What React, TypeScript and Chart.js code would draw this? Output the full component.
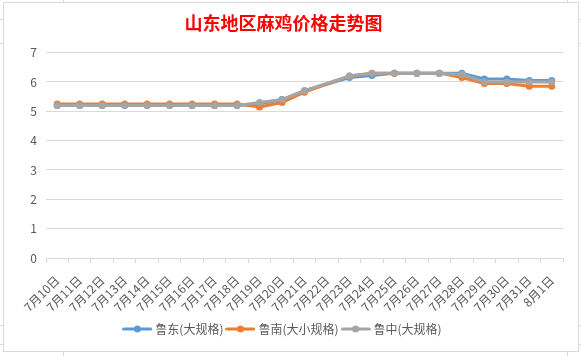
import React, { useEffect, useRef } from "react";
import { Chart, registerables } from "chart.js";

Chart.register(...registerables);

const titleText = "山东地区麻鸡价格走势图";
const categories = [
  "7月10日", "7月11日", "7月12日", "7月13日", "7月14日", "7月15日", "7月16日", "7月17日",
  "7月18日", "7月19日", "7月20日", "7月21日", "7月22日", "7月23日", "7月24日", "7月25日",
  "7月26日", "7月27日", "7月28日", "7月29日", "7月30日", "7月31日", "8月1日",
];
const seriesNames = ["鲁东(大规格)", "鲁南(大小规格)", "鲁中(大规格)"];
const luDong = [5.2, 5.2, 5.2, 5.2, 5.2, 5.2, 5.2, 5.2, 5.2, 5.25, 5.4, 5.7, null, 6.15, 6.22, 6.3, 6.3, 6.3, 6.3, 6.1, 6.1, 6.05, 6.05];
const luNan = [5.25, 5.25, 5.25, 5.25, 5.25, 5.25, 5.25, 5.25, 5.25, 5.15, 5.3, 5.65, null, 6.2, 6.3, 6.3, 6.3, 6.3, 6.15, 5.95, 5.95, 5.85, 5.85];
const luZhong = [5.2, 5.2, 5.2, 5.2, 5.2, 5.2, 5.2, 5.2, 5.2, 5.3, 5.4, 5.7, null, 6.2, 6.3, 6.3, 6.3, 6.3, 6.25, 6.0, 6.0, 6.0, 6.0];
const colors = ["#5B9BD5", "#ED7D31", "#A5A5A5"];

const FONT = "'Noto Sans CJK SC', 'Noto Sans', sans-serif";

function legendImage(color: string): HTMLCanvasElement {
  const c = document.createElement("canvas");
  c.width = 30;
  c.height = 10;
  const ctx = c.getContext("2d")!;
  ctx.strokeStyle = color;
  ctx.lineWidth = 3;
  ctx.lineCap = "round";
  ctx.beginPath();
  ctx.moveTo(1.5, 5);
  ctx.lineTo(28.5, 5);
  ctx.stroke();
  ctx.fillStyle = color;
  ctx.beginPath();
  ctx.arc(15, 5, 3.5, 0, Math.PI * 2);
  ctx.fill();
  return c;
}

export default function App() {
  const ref = useRef<HTMLCanvasElement | null>(null);

  useEffect(() => {
    if (!ref.current) return;
    const images = colors.map(legendImage);
    const data = [luDong, luNan, luZhong];
    const chart = new Chart(ref.current, {
      type: "line",
      data: {
        labels: categories,
        datasets: data.map((d, i) => ({
          label: seriesNames[i],
          data: d,
          borderColor: colors[i],
          backgroundColor: colors[i],
          borderWidth: 3,
          pointRadius: 3.5,
          pointBorderWidth: 0,
          pointBackgroundColor: colors[i],
          spanGaps: true,
          tension: 0,
          order: 2 - i,
        })),
      },
      options: {
        animation: false,
        responsive: false,
        maintainAspectRatio: false,
        layout: { padding: { left: 0, right: 15, top: 0, bottom: 6 } },
        plugins: {
          title: {
            display: true,
            text: titleText,
            color: "#FF0000",
            font: { family: FONT, size: 18, weight: "bold" },
            padding: { top: 9, bottom: 19 },
          },
          legend: {
            position: "bottom",
            labels: {
              usePointStyle: true,
              pointStyleWidth: 24,
              padding: 5,
              color: "#595959",
              font: { family: FONT, size: 12 },
              generateLabels: (ch: any) => {
                const items = Chart.defaults.plugins.legend.labels.generateLabels(ch);
                return items
                  .sort((a: any, b: any) => a.datasetIndex - b.datasetIndex)
                  .map((it: any) => ({ ...it, pointStyle: images[it.datasetIndex] }));
              },
            },
          },
          tooltip: { enabled: false },
        },
        scales: {
          x: {
            offset: true,
            afterFit: (s: any) => {
              s.height = 60;
            },
            grid: {
              offset: true,
              drawOnChartArea: false,
              drawTicks: true,
              tickLength: 5,
              color: "#D9D9D9",
            },
            border: { display: true, color: "#D9D9D9" },
            ticks: {
              autoSkip: false,
              minRotation: 45,
              maxRotation: 45,
              color: "#595959",
              font: { family: FONT, size: 12 },
              padding: 10,
            },
          },
          y: {
            min: 0,
            max: 7,
            afterFit: (s: any) => {
              s.width = 42;
            },
            grid: { color: "#D9D9D9", drawTicks: false },
            border: { display: false },
            ticks: {
              stepSize: 1,
              color: "#595959",
              font: { family: FONT, size: 12 },
              padding: 9,
            },
          },
        },
      },
    });
    return () => chart.destroy();
  }, []);

  const hLines = [19, 43, 325, 344];
  const vLines = [63, 567];
  return (
    <div style={{ position: "fixed", left: 0, top: 0, width: 581, height: 356, background: "#fff", overflow: "hidden" }}>
      {hLines.map((y) => (
        <div key={"h" + y} style={{ position: "absolute", left: 0, top: y, width: 581, height: 1, background: "#D9D9D9" }} />
      ))}
      {vLines.map((x) => (
        <div key={"v" + x} style={{ position: "absolute", left: x, top: 0, width: 1, height: 356, background: "#D9D9D9" }} />
      ))}
      <div
        style={{
          position: "absolute",
          left: 3,
          top: 2,
          width: 576,
          height: 350,
          border: "1px solid #D9D9D9",
          boxSizing: "border-box",
          background: "#fff",
        }}
      >
        <canvas ref={ref} width={574} height={348} style={{ display: "block" }} />
      </div>
    </div>
  );
}
